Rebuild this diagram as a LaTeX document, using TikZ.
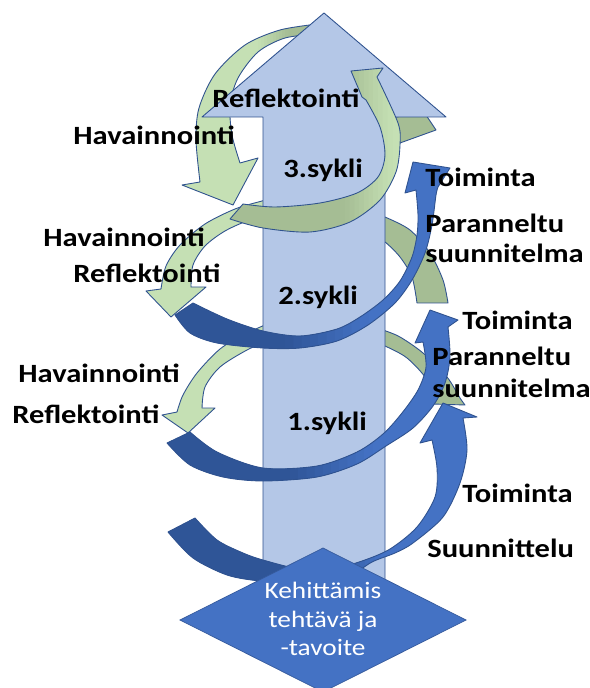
\documentclass[tikz,border=0pt]{standalone}
\usepackage{fontspec}
\newfontfamily\lblfont{Carlito}[FakeStretch=1.16]
\definecolor{shaftfill}{HTML}{B4C7E7}
\definecolor{edgecol}{HTML}{2F528F}
\definecolor{lgreen}{HTML}{C5E0B4}
\definecolor{olivegr}{HTML}{A5BD94}
\definecolor{blueM}{HTML}{4472C4}
\definecolor{blueD}{HTML}{2F5597}
\tikzset{
  outl/.style={draw=edgecol, line width=0.5pt, line join=round},
  lbl/.style={font=\lblfont\bfseries\fontsize{15}{17}\selectfont, text=black, inner sep=0pt, anchor=base west},
  dtxt/.style={font=\lblfont\fontsize{13.4}{15}\selectfont, text=white, inner sep=0pt, anchor=base}
}
% horizontal stepped colour blend inside a shape, then its outline
\newcommand\hgradfill[5]{%
  \fill[#3] #1;
  \begin{scope}\clip (-10,-10) rectangle (#4,700); \fill[#2] #1; \end{scope}
  \foreach \i in {0,...,9}{%
    \pgfmathsetmacro\xa{#4+(#5-#4)*\i/10}%
    \pgfmathsetmacro\xb{#4+(#5-#4)*(\i+1)/10+0.6}%
    \pgfmathtruncatemacro\pc{95-10*\i}%
    \begin{scope}\clip (\xa,-10) rectangle (\xb,700); \fill[#2!\pc!#3] #1; \end{scope}
  }
  \draw[outl] #1;
}
% shapes (pixel coordinates, y downward)
\def\pHT{plot[smooth] coordinates {(318,24) (280,30) (245,45) (215,74) (199,108) (196,140) (200,182)} -- (182,185) -- (233,205) -- (258,158) -- plot[smooth] coordinates {(240,163) (232,135) (230,105) (238,78) (258,52) (285,38) (318,34)} -- cycle}
\def\pTT{(380,120) -- (424,112) -- (436,130) -- (400,143) -- (380,146) -- cycle}
\def\pHB{plot[smooth] coordinates {(278,197) (262,201) (235,209) (205,224) (180,245) (166,266) (161,289)} -- (146,291) -- (171,317) -- (206,287) -- plot[smooth] coordinates {(191,287) (193,265) (205,246) (225,231) (250,220) (278,214)} -- cycle}
\def\pOB{plot[smooth] coordinates {(375,214) (385,217) (410,230) (430,253) (443,280) (448,303)} -- plot[smooth] coordinates {(417,303) (412,277) (400,257) (385,242) (375,238)} -- cycle}
\def\pHC{plot[smooth] coordinates {(272,322) (245,334) (220,349) (197,373) (183,395) (177,412)} -- (162,415) -- (188,433) -- (215,408) -- plot[smooth] coordinates {(202,408) (205,387) (220,367) (247,350) (272,339)} -- cycle}
\def\pOC{plot[smooth] coordinates {(375,328) (383,330) (400,337) (423,353) (447,377) (460,398) (465,405)} -- plot[smooth] coordinates {(433,404) (427,380) (407,358) (385,346) (375,343)} -- cycle}
\def\pBig{(263,610) -- (263,117) -- (202,117) -- (324,13) -- (446,117) -- (385,117) -- (385,610) -- cycle}
\def\pRA{plot[smooth] coordinates {(230,219) (263,228) (310,232) (350,222) (380,200) (396,172) (400,145) (398,123) (377,77)} -- (383,68) -- (351,71) -- (362,97) -- plot[smooth] coordinates {(366,100) (380,127) (385,155) (378,177) (357,193) (320,203) (275,207) (243,204)} -- cycle}
\def\pBB{plot[smooth] coordinates {(175,315) (190,333) (217,343) (263,348) (300,348) (337,341) (368,325) (395,303) (412,280) (425,253) (432,225) (436,195) (438,187)} -- (450,168) -- (413,162) -- (405,193) -- plot[smooth] coordinates {(416,190) (418,215) (417,235) (412,257) (400,281) (383,300) (360,317) (337,329) (300,336) (263,331) (227,319) (193,303)} -- cycle}
\def\pBC{plot[smooth] coordinates {(167,443) (190,465) (223,477) (263,481) (317,477) (357,464) (386,446) (413,428) (433,406) (445,383) (450,357) (448,327)} -- (458,320) -- (430,310) -- (415,343) -- plot[smooth] coordinates {(423,342) (426,367) (418,390) (402,413) (383,434) (357,452) (317,466) (263,468) (217,452) (190,432)} -- cycle}
\def\pBD{plot[smooth] coordinates {(168,532) (193,558) (227,575) (260,581) (300,583) (345,578) (372,562) (395,553) (413,543) (443,517) (460,483) (467,450) (463,418)} -- (477,417) -- (443,403) -- (420,443) -- plot[smooth] coordinates {(432,440) (437,468) (435,497) (417,527) (390,549) (362,561) (335,568) (300,569) (263,560) (243,553) (217,540) (195,518)} -- cycle}
\def\pDia{(323,548) -- (466,620) -- (323,692) -- (180,620) -- cycle}
\begin{document}
\begin{tikzpicture}[x=0.02cm, y=-0.02cm]
\useasboundingbox (0,0) rectangle (590,688);
\fill[white] (0,0) rectangle (590,688);
% back pieces
\hgradfill{\pHT}{lgreen}{olivegr}{258}{288}
\fill[olivegr, outl] \pTT;
\fill[lgreen, outl] \pHB;
\fill[olivegr, outl] \pOB;
\fill[lgreen, outl] \pHC;
\fill[olivegr, outl] \pOC;
% main arrow
\fill[shaftfill, outl] \pBig;
% front arcs
\hgradfill{\pRA}{olivegr}{lgreen}{345}{392}
\hgradfill{\pBB}{blueD}{blueM}{285}{368}
\hgradfill{\pBC}{blueD}{blueM}{290}{372}
\hgradfill{\pBD}{blueD}{blueM}{330}{380}
% diamond
\fill[blueM, draw=blueM!80!black, line width=0.4pt] \pDia;
% labels
\node[lbl] (refl3) at (212,108) {Reflektointi};
\node[lbl] (hav3) at (73,145) {Havainnointi};
\node[lbl] (syk3) at (283,178) {3.sykli};
\node[lbl] (toim3) at (425,187) {Toiminta};
\node[lbl] (par3) at (425,233) {Paranneltu};
\node[lbl] (suu3) at (425,263) {suunnitelma};
\node[lbl] (hav2) at (43,247) {Havainnointi};
\node[lbl] (refl2) at (73,283) {Reflektointi};
\node[lbl] (syk2) at (278,305) {2.sykli};
\node[lbl] (toim2) at (462,330) {Toiminta};
\node[lbl] (par2) at (432,365) {Paranneltu};
\node[lbl] (suu2) at (432,397) {suunnitelma};
\node[lbl] (hav1) at (18,382) {Havainnointi};
\node[lbl] (refl1) at (12,423) {Reflektointi};
\node[lbl] (syk1) at (287,430) {1.sykli};
\node[lbl] (toim1) at (462,502) {Toiminta};
\node[lbl] (suun) at (427,557) {Suunnittelu};
\node[dtxt] (k1) at (323,598) {Kehittämis};
\node[dtxt] (k2) at (323,627) {tehtävä ja};
\node[dtxt] (k3) at (323,655) {-tavoite};
\end{tikzpicture}
\end{document}
